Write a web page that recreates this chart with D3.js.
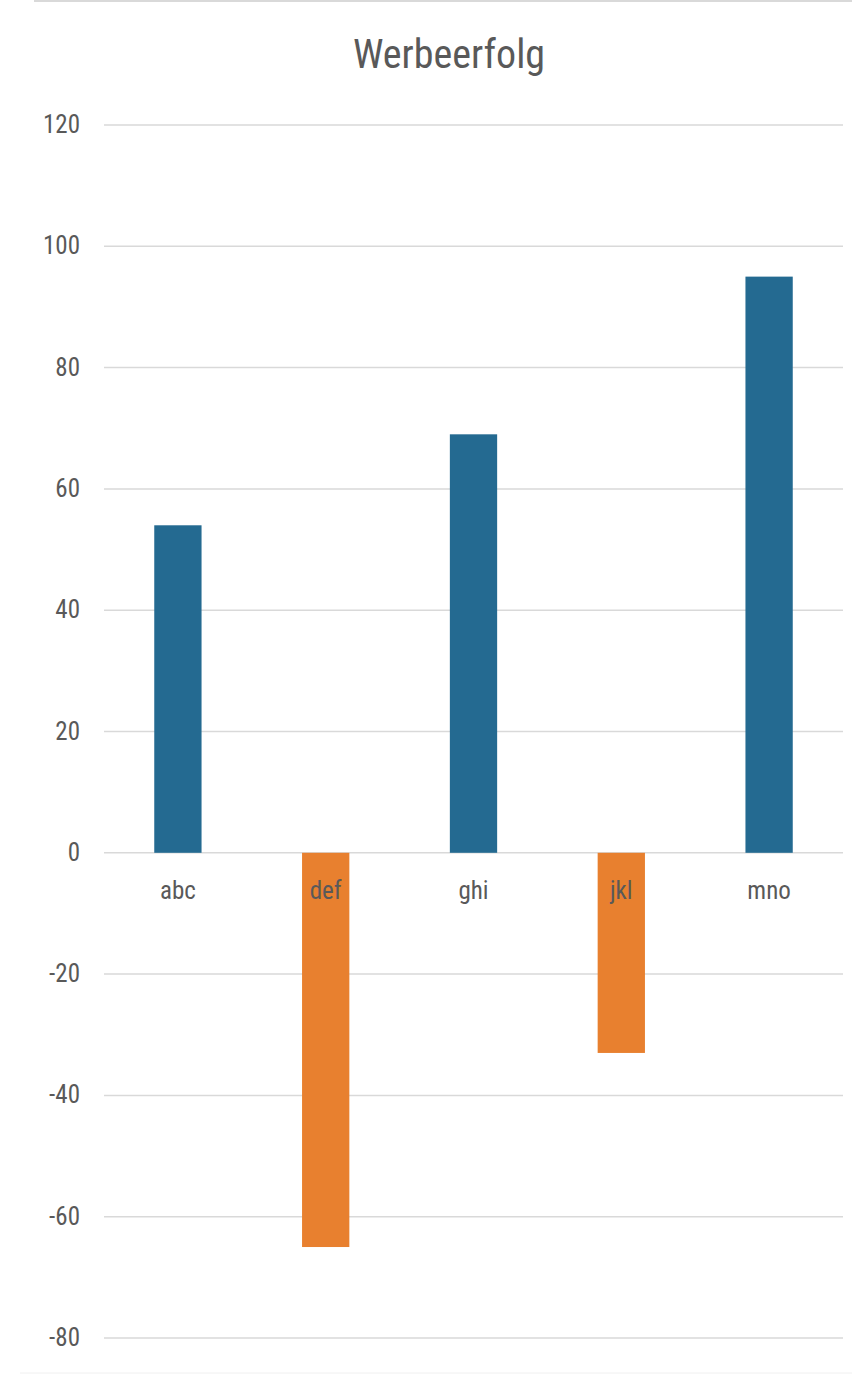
<!DOCTYPE html>
<html><head><meta charset="utf-8">
<script src="https://cdn.jsdelivr.net/npm/d3@7"></script>
<style>
html,body{margin:0;padding:0;background:#fff;}
text{font-family:"Liberation Sans Narrow","Roboto Condensed","Open Sans",sans-serif;}
</style></head>
<body><svg id="c" width="852" height="1374"></svg>
<script>
const categories = ["abc","def","ghi","jkl","mno"];
const values = [54,-65,69,-33,95];
const yTicks = [120,100,80,60,40,20,0,-20,-40,-60,-80];
const title = "Werbeerfolg";

(function(){
const svg = d3.select("#c");
const mLeft = 104, mRight = 843, mTop = 125, mBottom = 1338;
svg.append("line").attr("x1",34).attr("x2",852).attr("y1",1).attr("y2",1).attr("stroke","#d9d9d9").attr("stroke-width",2);
svg.append("line").attr("x1",20).attr("x2",852).attr("y1",1373).attr("y2",1373).attr("stroke","#f0f0f0").attr("stroke-width",1);

const y = d3.scaleLinear().domain([-80,120]).range([mBottom,mTop]);
const x = d3.scaleBand().domain(categories).range([mLeft,mRight]).paddingInner(0.68).paddingOuter(0.34);

svg.append("g").selectAll("line").data(yTicks).join("line")
  .attr("x1",mLeft).attr("x2",mRight).attr("y1",d=>y(d)).attr("y2",d=>y(d))
  .attr("stroke","#d9d9d9").attr("stroke-width",1.5);

svg.append("g").selectAll("text").data(yTicks).join("text")
  .attr("x",80).attr("y",d=>y(d)+8).attr("text-anchor","end")
  .attr("fill","#595959").attr("font-size",25).text(d=>d);

svg.append("g").selectAll("rect").data(values).join("rect")
  .attr("x",(d,i)=>x(categories[i])).attr("width",x.bandwidth())
  .attr("y",d=>y(Math.max(0,d))).attr("height",d=>Math.abs(y(d)-y(0)))
  .attr("fill",d=>d>=0?"#246A91":"#E8802F");

svg.append("g").selectAll("text").data(categories).join("text")
  .attr("x",d=>x(d)+x.bandwidth()/2).attr("y",899).attr("text-anchor","middle")
  .attr("fill","#595959").attr("font-size",25).text(d=>d);

svg.append("text").attr("x",449).attr("y",68).attr("text-anchor","middle")
  .attr("fill","#595959").attr("font-size",40).text(title);
})();
</script></body></html>
